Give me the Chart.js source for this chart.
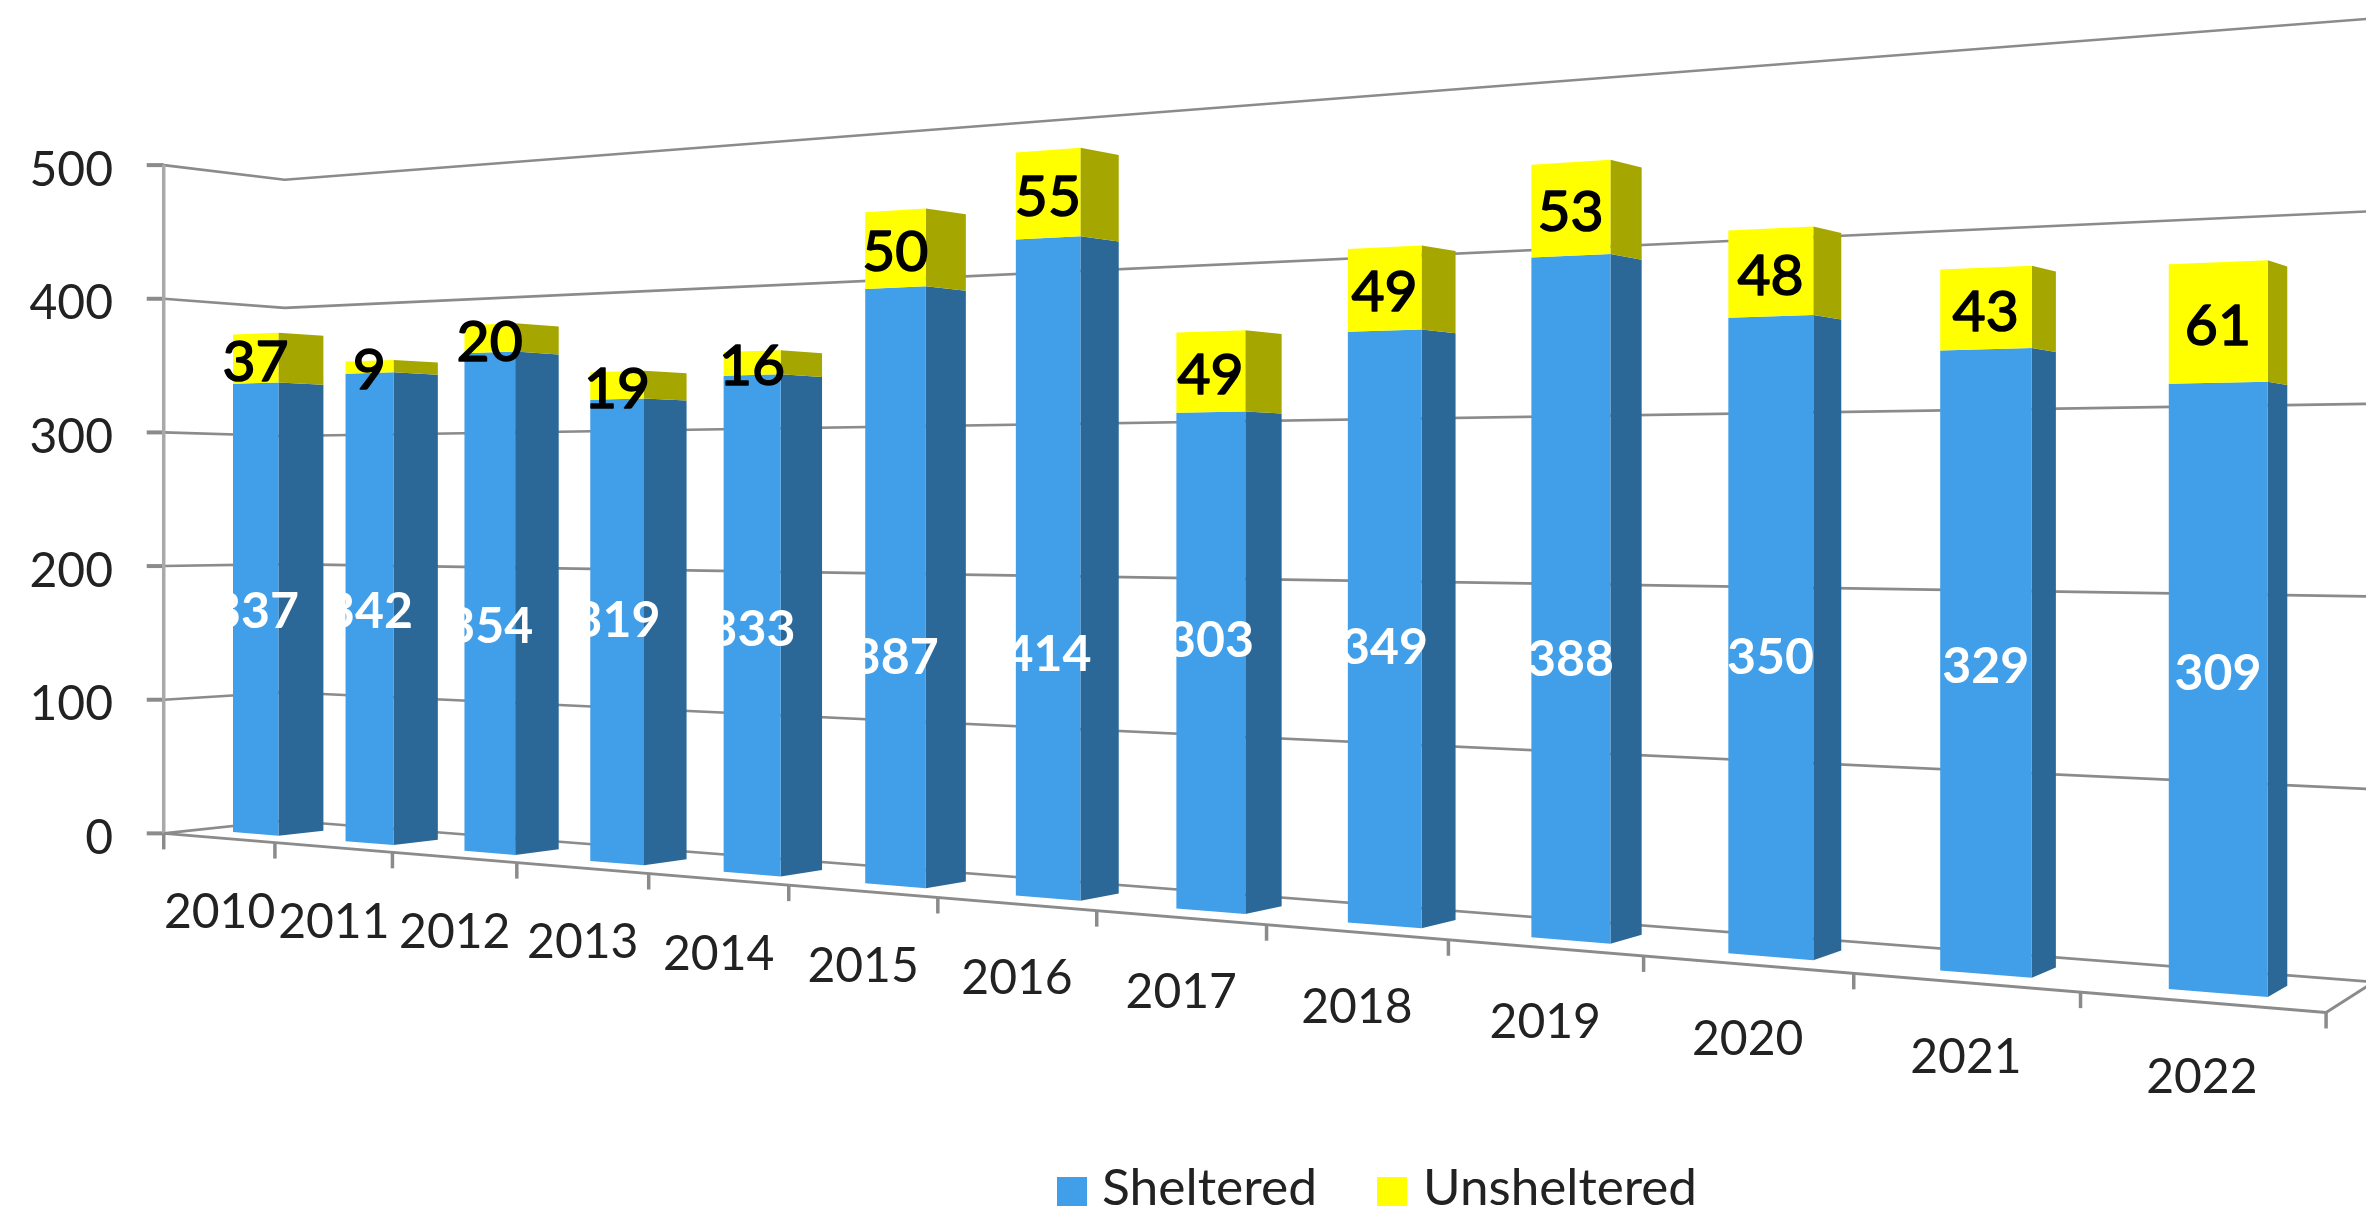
<!DOCTYPE html>
<html><head><meta charset="utf-8">
<style>html,body{margin:0;padding:0;background:#fff}#w{width:2366px;height:1212px;position:relative}canvas{filter:blur(0.6px)}</style>
<script src="https://cdn.jsdelivr.net/npm/chart.js@4/dist/chart.umd.min.js"></script>
</head><body><div id="w"><canvas id="c"></canvas></div>
<script>
const years = ['2010','2011','2012','2013','2014','2015','2016','2017','2018','2019','2020','2021','2022'];
const sheltered = [337,342,354,319,333,387,414,303,349,388,350,329,309];
const unsheltered = [37,9,20,19,16,50,55,49,49,53,48,43,61];
const seriesNames = ['Sheltered','Unsheltered'];

// perspective camera: k = category slot, v = value, z = depth (0 bar front, 1 bar back)
const cam = {a:103.3,c:233,g:-0.02675,q:0.01603,vx:3100,vy:520,y0:832,yk:-13.375,e:1.33};
const barShare=0.41, kL=-(1-barShare)/2, zF=-0.797, zB=1.87, slots=13, kR=kL+slots;
function P(k,v,z){const w=1+cam.g*k+cam.q*z;
  return [(cam.a*k+cam.c+cam.vx*cam.q*z)/w,(cam.y0+cam.yk*k-cam.e*v+cam.vy*cam.q*z)/w];}
const whiteNudge=[1,2,22,-12,3,69,85,-23,18,60,19,3,-16];
const sideColors=['#2b6898','#a6a600'];

function poly(ctx,pts,fill){ctx.beginPath();pts.forEach((p,i)=>i?ctx.lineTo(p[0],p[1]):ctx.moveTo(p[0],p[1]));ctx.closePath();ctx.fillStyle=fill;ctx.fill();}
function line(ctx,pts,col,lw){ctx.beginPath();pts.forEach((p,i)=>i?ctx.lineTo(p[0],p[1]):ctx.moveTo(p[0],p[1]));ctx.strokeStyle=col;ctx.lineWidth=lw;ctx.stroke();}
function squeezed(ctx,text,x,y,width){const m=ctx.measureText(text).width;ctx.save();ctx.translate(x,y);ctx.scale(width/m,1);ctx.textAlign='left';ctx.fillText(text,0,0);ctx.restore();}

const perspective={id:'perspective',
 beforeDatasetsDraw(chart){
  const ctx=chart.ctx,A=chart.chartArea,xs=chart.scales.x,ys=chart.scales.y;
  const kOf=px=>kL+(px-A.left)/A.width*slots;
  ctx.save();ctx.lineJoin='round';
  // walls and gridlines
  const grid='#8b8b8b',axis='#a9a9a9';
  ys.ticks.forEach(t=>{const v=t.value;
    line(ctx,[P(kL,v,zF),P(kL,v,zB),P(kR,v,zB)],grid,2.6);
    const a=P(kL,v,zF);line(ctx,[[a[0]-17,a[1]],a],grid,4);
  });
  line(ctx,[P(kL,0,zF),P(kL,ys.max,zF)],axis,3.5);
  line(ctx,[P(kL,0,zF),P(kR,0,zF),P(kR,0,zB)],grid,3);
  for(let j=0;j<=slots;j++){const a=P(kL+j,0,zF);line(ctx,[a,[a[0],a[1]+16]],grid,3.5);}
  // value axis labels
  ctx.fillStyle='#222222';ctx.font='48px Lato';ctx.textAlign='right';ctx.textBaseline='middle';
  ys.ticks.forEach(t=>{const a=P(kL,t.value,zF);ctx.fillText(String(t.value),113,a[1]+5);});
  // category labels
  ctx.textAlign='center';
  chart.data.labels.forEach((lab,i)=>{const c=kOf(xs.getPixelForValue(i));const a=P(c,0,zF);ctx.fillText(lab,a[0]+1,a[1]+75);});
  // bars
  const metas=[0,1].map(d=>chart.getDatasetMeta(d));
  years.forEach((_,i)=>{metas.forEach((m,d)=>{
    const el=m.data[i].getProps(['x','y','base','width'],true);
    const k0=kOf(el.x-el.width/2),k1=kOf(el.x+el.width/2);
    const v0=ys.getValueForPixel(el.base),v1=ys.getValueForPixel(el.y);
    poly(ctx,[P(k1,v0,0),P(k1,v1,0),P(k1,v1,1),P(k1,v0,1)],sideColors[d]);
    poly(ctx,[P(k0,v0,0),P(k0,v1,0),P(k1,v1,0),P(k1,v0,0)],chart.data.datasets[d].backgroundColor);
  });});
  // data labels
  ctx.textAlign='center';ctx.textBaseline='middle';
  metas.forEach((m,d)=>{m.data.forEach((e,i)=>{
    const el=e.getProps(['x','y','base','width'],true);
    const k=kOf(el.x),vm=ys.getValueForPixel((el.y+el.base)/2);
    const p=P(k,vm,0);
    const txt=String(chart.data.datasets[d].data[i]);
    if(d===0){ctx.fillStyle='#ffffff';ctx.font='bold 50px Lato';ctx.fillText(txt,p[0],p[1]+whiteNudge[i]+2);}
    else{ctx.fillStyle='#000000';ctx.strokeStyle='#000000';ctx.lineWidth=1.6;ctx.font='57px Lato';ctx.fillText(txt,p[0],p[1]+4);ctx.strokeText(txt,p[0],p[1]+4);}
  });});
  // legend
  const lx=[[1057,1102,215],[1377,1423,274]];
  ctx.textBaseline='alphabetic';ctx.font='50px Lato';
  chart.data.datasets.forEach((ds,d)=>{
    ctx.fillStyle=ds.backgroundColor;ctx.fillRect(lx[d][0],1177,30,29);
    ctx.fillStyle='#222222';squeezed(ctx,ds.label,lx[d][1],1205,lx[d][2]);
  });
  ctx.restore();
  return false;
 }};

new Chart(document.getElementById('c'),{type:'bar',
 data:{labels:years,datasets:[
  {label:seriesNames[0],data:sheltered,backgroundColor:'#419fe9',barPercentage:barShare,categoryPercentage:1},
  {label:seriesNames[1],data:unsheltered,backgroundColor:'#ffff00',barPercentage:barShare,categoryPercentage:1}]},
 options:{responsive:true,maintainAspectRatio:false,animation:false,
  layout:{padding:0},
  plugins:{legend:{display:false},tooltip:{enabled:false},title:{display:false}},
  scales:{x:{display:false,stacked:true},y:{display:false,stacked:true,min:0,max:500,ticks:{stepSize:100}}}},
 plugins:[perspective]});
</script></body></html>
